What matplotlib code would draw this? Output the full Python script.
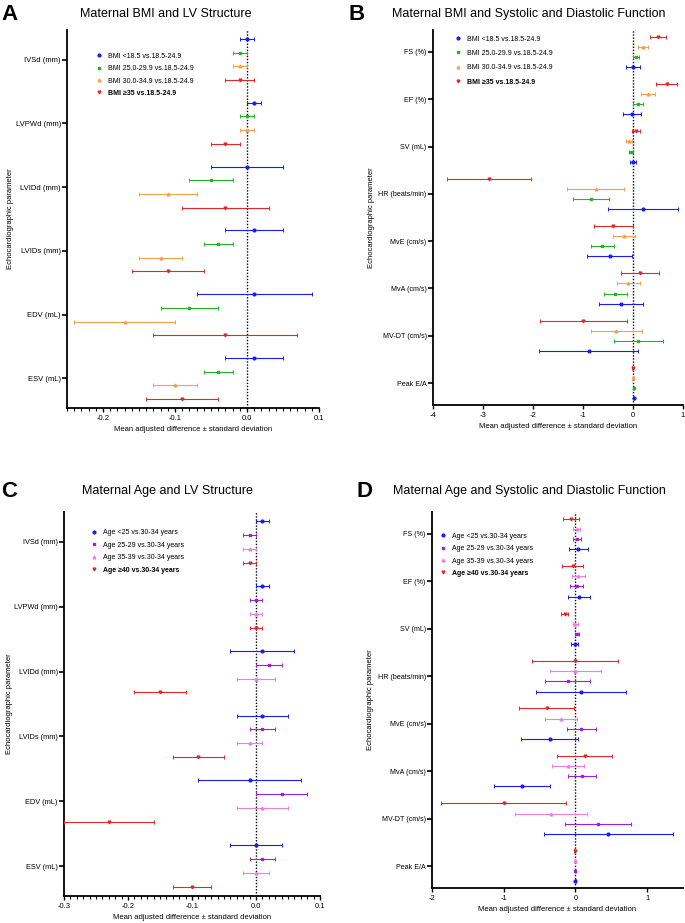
import matplotlib
matplotlib.use("Agg")
import matplotlib.pyplot as plt
from matplotlib.lines import Line2D
from matplotlib.ticker import MultipleLocator

plt.rcParams['font.family'] = ['Liberation Sans', 'DejaVu Sans']
plt.rcParams['axes.unicode_minus'] = False

# ---------------- data ----------------
struct_params = ["IVSd (mm)", "LVPWd (mm)", "LVIDd (mm)", "LVIDs (mm)", "EDV (mL)", "ESV (mL)"]
func_params = ["FS (%)", "EF (%)", "SV (mL)", "HR (beats/min)", "MvE (cm/s)", "MvA (cm/s)",
               "MV-DT (cm/s)", "Peak E/A"]

bmi_labels = ["BMI <18.5 vs.18.5-24.9", "BMI 25.0-29.9 vs.18.5-24.9",
              "BMI 30.0-34.9 vs.18.5-24.9", "BMI \u226535 vs.18.5-24.9"]
age_labels = ["Age <25 vs.30-34 years", "Age 25-29 vs.30-34 years",
              "Age 35-39 vs.30-34 years", "Age \u226540 vs.30-34 years"]

# Panel A: BMI and LV structure (mean, sd) per group, per parameter
a_mean_lt185 = [0.00, 0.01, 0.00, 0.01, 0.01, 0.01]
a_sd_lt185 = [0.01, 0.01, 0.05, 0.04, 0.08, 0.04]
a_mean_25 = [-0.01, 0.00, -0.05, -0.04, -0.08, -0.04]
a_sd_25 = [0.01, 0.01, 0.03, 0.02, 0.04, 0.02]
a_mean_30 = [-0.01, 0.00, -0.11, -0.12, -0.17, -0.10]
a_sd_30 = [0.01, 0.01, 0.04, 0.03, 0.07, 0.03]
a_mean_35 = [-0.01, -0.03, -0.03, -0.11, -0.03, -0.09]
a_sd_35 = [0.02, 0.02, 0.06, 0.05, 0.10, 0.05]

# Panel B: BMI and systolic/diastolic function
b_mean_lt185 = [0.00, -0.02, 0.00, 0.19, -0.47, -0.25, -0.89, 0.01]
b_sd_lt185 = [0.14, 0.18, 0.06, 0.70, 0.45, 0.44, 0.99, 0.01]
b_mean_25 = [0.05, 0.09, -0.04, -0.85, -0.62, -0.36, 0.10, 0.01]
b_sd_25 = [0.06, 0.10, 0.04, 0.36, 0.23, 0.23, 0.49, 0.01]
b_mean_30 = [0.19, 0.29, -0.08, -0.75, -0.19, -0.10, -0.34, 0.00]
b_sd_30 = [0.10, 0.14, 0.06, 0.57, 0.22, 0.23, 0.51, 0.01]
b_mean_35 = [0.50, 0.67, 0.05, -2.89, -0.40, 0.13, -1.00, -0.01]
b_sd_35 = [0.16, 0.21, 0.08, 0.84, 0.39, 0.38, 0.87, 0.01]

# Panel C: age and LV structure
c_mean_lt25 = [0.01, 0.01, 0.01, 0.01, -0.01, 0.00]
c_sd_lt25 = [0.01, 0.01, 0.05, 0.04, 0.08, 0.04]
c_mean_25 = [-0.01, 0.00, 0.02, 0.01, 0.04, 0.01]
c_sd_25 = [0.01, 0.01, 0.02, 0.02, 0.04, 0.02]
c_mean_35 = [-0.01, 0.00, 0.00, -0.01, 0.01, 0.00]
c_sd_35 = [0.01, 0.01, 0.03, 0.02, 0.04, 0.02]
c_mean_40 = [-0.01, 0.00, -0.15, -0.09, -0.23, -0.10]
c_sd_40 = [0.01, 0.01, 0.04, 0.04, 0.07, 0.03]

# Panel D: age and systolic/diastolic function
d_mean_lt25 = [0.04, 0.05, -0.01, 0.08, -0.36, -0.75, 0.46, 0.00]
d_sd_lt25 = [0.13, 0.16, 0.05, 0.63, 0.40, 0.39, 0.90, 0.01]
d_mean_25 = [0.02, 0.02, 0.02, -0.11, 0.08, 0.09, 0.31, 0.00]
d_sd_25 = [0.06, 0.09, 0.03, 0.32, 0.20, 0.20, 0.46, 0.01]
d_mean_35 = [0.02, 0.04, 0.00, 0.00, -0.20, -0.10, -0.34, 0.00]
d_sd_35 = [0.05, 0.09, 0.03, 0.35, 0.22, 0.22, 0.50, 0.01]
d_mean_40 = [-0.06, -0.04, -0.15, 0.00, -0.40, 0.13, -1.00, -0.01]
d_sd_40 = [0.11, 0.15, 0.05, 0.60, 0.38, 0.38, 0.87, 0.01]

bmi_colors = ["#1c1cf0", "#22b422", "#f5a04a", "#e3262b"]
age_colors = ["#1c1cf0", "#9a22d8", "#ea80e0", "#e3262b"]
markers = ["o", "s", "^", "v"]
msizes = [2.0, 1.7, 2.0, 2.0]

W, H = 685, 923
fig = plt.figure(figsize=(W / 100, H / 100), dpi=100)


def px_axes(left, top, right, bottom):
    return fig.add_axes([left / W, 1 - bottom / H, (right - left) / W, (bottom - top) / H])


def draw_panel(ax, params, means, sds, labels, colors, xlim, major, minor,
               red_on_top, leg_anchor, leg_space, ylab_x, tick_fs):
    n = len(params)
    d = 0.215
    offs = [-1.5 * d, -0.5 * d, 0.5 * d, 1.5 * d]
    if red_on_top:
        offs = offs[::-1]
    handles = []
    for k in range(4):
        ys = [i + offs[k] for i in range(n)]
        ax.errorbar(means[k], ys, xerr=sds[k], fmt=markers[k], color=colors[k],
                    ms=msizes[k], elinewidth=0.8, capsize=1.3, capthick=0.7, zorder=3)
        handles.append(Line2D([], [], ls="none", marker=markers[k], color=colors[k], ms=msizes[k]))
    ax.axvline(0, color="black", ls=(0, (1, 1.2)), lw=1.0, zorder=2)
    ax.set_xlim(*xlim)
    ax.set_ylim(n - 1 + 1.5 * d + 0.14, -1.5 * d - 0.14)
    ax.set_yticks(range(n))
    ax.set_yticklabels(params, fontsize=tick_fs)
    ax.xaxis.set_major_locator(MultipleLocator(major))
    if minor:
        ax.xaxis.set_minor_locator(MultipleLocator(minor))
    ax.tick_params(axis="x", labelsize=5.5, length=3, width=1, pad=2)
    ax.tick_params(axis="x", which="minor", length=1.8, width=0.8)
    ax.tick_params(axis="y", length=3.5, width=1.2, pad=1)
    for s in ["top", "right"]:
        ax.spines[s].set_visible(False)
    for s in ["left", "bottom"]:
        ax.spines[s].set_linewidth(1.3)
    ax.set_xlabel("Mean adjusted difference \u00b1 standard deviation", fontsize=5.5, labelpad=3)
    ax.set_ylabel("Echocardiographic parameter", fontsize=5.5)
    ax.yaxis.set_label_coords(ylab_x, 0.5)
    leg = ax.legend(handles, labels, loc="upper left", bbox_to_anchor=leg_anchor,
                    frameon=False, fontsize=5, handlelength=0.6, handletextpad=1.0,
                    labelspacing=leg_space, borderpad=0, borderaxespad=0)
    leg.get_texts()[3].set_fontweight("bold")


axA = px_axes(67, 30, 319, 408)
draw_panel(axA, struct_params, [a_mean_lt185, a_mean_25, a_mean_30, a_mean_35],
           [a_sd_lt185, a_sd_25, a_sd_30, a_sd_35], bmi_labels, bmi_colors,
           (-0.25, 0.1), 0.1, 0.01, False, (0.12, 0.94), 0.78, -0.21, 5.5)

axB = px_axes(433, 30, 683, 405)
draw_panel(axB, func_params, [b_mean_lt185, b_mean_25, b_mean_30, b_mean_35],
           [b_sd_lt185, b_sd_25, b_sd_30, b_sd_35], bmi_labels, bmi_colors,
           (-4, 1), 1, None, True, (0.09, 0.985), 1.05, -0.232, 5.1)

axC = px_axes(64, 512, 320, 896)
draw_panel(axC, struct_params, [c_mean_lt25, c_mean_25, c_mean_35, c_mean_40],
           [c_sd_lt25, c_sd_25, c_sd_35, c_sd_40], age_labels, age_colors,
           (-0.3, 0.1), 0.1, 0.01, False, (0.11, 0.955), 0.78, -0.2, 5.3)

axD = px_axes(432, 512, 683, 888)
draw_panel(axD, func_params, [d_mean_lt25, d_mean_25, d_mean_35, d_mean_40],
           [d_sd_lt25, d_sd_25, d_sd_35, d_sd_40], age_labels, age_colors,
           (-2, 1.5), 1, None, True, (0.035, 0.945), 0.78, -0.23, 5.1)

# titles and panel letters
fig.text(166 / W, 1 - 14 / H, "Maternal BMI and LV Structure", fontsize=9, ha="center", va="center")
fig.text(529 / W, 1 - 14 / H, "Maternal BMI and Systolic and Diastolic Function", fontsize=9,
         ha="center", va="center")
fig.text(167 / W, 1 - 491 / H, "Maternal Age and LV Structure", fontsize=9, ha="center", va="center")
fig.text(529 / W, 1 - 491 / H, "Maternal Age and Systolic and Diastolic Function", fontsize=9,
         ha="center", va="center")
for x, y, s in [(1, 15, "A"), (349, 15, "B"), (1, 491, "C"), (356, 491, "D")]:
    fig.text(x / W, 1 - y / H, s, fontsize=16, fontweight="bold", ha="left", va="center")

fig.savefig("out.png", dpi=100)
